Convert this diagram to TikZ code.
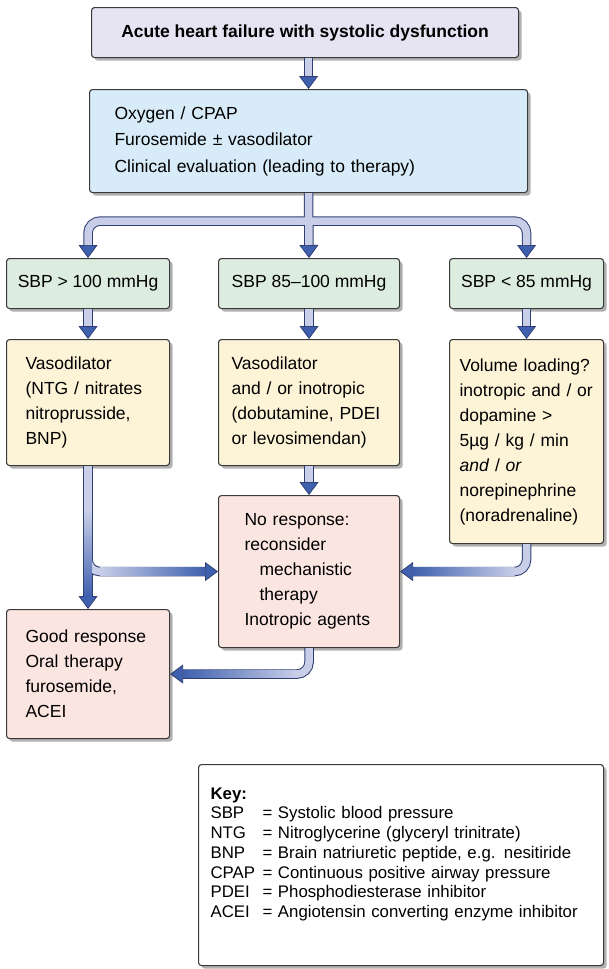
\documentclass[tikz,border=0pt]{standalone}
\usepackage{fontspec}
\setmainfont{Liberation Sans}
\usetikzlibrary{arrows.meta,shadows,calc}
\definecolor{topfill}{HTML}{E6E4F2}
\definecolor{bluefill}{HTML}{D7ECF8}
\definecolor{greenfill}{HTML}{DCECDF}
\definecolor{yellowfill}{HTML}{FDF3D7}
\definecolor{pinkfill}{HTML}{FBE5E0}
\definecolor{boxline}{HTML}{3A3A3A}
\definecolor{pipeline}{HTML}{2F3F73}
\definecolor{pipein}{HTML}{C8CEE8}
\definecolor{tipblue}{HTML}{3F60AE}
\begin{document}
\begin{tikzpicture}[x=1pt,y=-1pt,
  box/.style={draw=boxline, line width=1.1pt, rounded corners=3pt, anchor=north west,
    inner ysep=0pt, align=left, font=\fontsize{17.5}{25}\selectfont,
    drop shadow={shadow xshift=3pt, shadow yshift=-3pt, fill=black, opacity=0.3}},
  pipeo/.style={line width=9.5pt, draw=pipeline, rounded corners=12pt,
    -{Triangle[length=13pt,width=19pt,line width=0.8pt,fill=tipblue]}},
  pipei/.style={line width=7.5pt, draw=pipein, rounded corners=12pt, shorten >=13pt}]
\useasboundingbox (0,0) rectangle (608,969);

% boxes
\node[box, fill=topfill, minimum width=427pt, minimum height=50pt, align=center,
  font=\fontsize{17.5}{21}\selectfont\bfseries] (top) at (91,7)
  {Acute heart failure with systolic dysfunction};
\node[box, fill=bluefill, minimum width=438pt, minimum height=103pt, inner xsep=25pt,
  text width=388pt, font=\fontsize{17.5}{26.5}\selectfont] (blue) at (89,89)
  {Oxygen / CPAP\\Furosemide ± vasodilator\\Clinical evaluation (leading to therapy)};

\node[box, fill=greenfill, minimum width=163pt, minimum height=50pt, align=center] (g1) at (6,258) {SBP > 100 mmHg};
\node[box, fill=greenfill, minimum width=181pt, minimum height=50pt, align=center] (g2) at (218,258) {SBP 85--100 mmHg};
\node[box, fill=greenfill, minimum width=154pt, minimum height=50pt, align=center] (g3) at (449,258) {SBP < 85 mmHg};

\node[box, fill=yellowfill, minimum width=163pt, minimum height=126pt, inner xsep=19pt, text width=125pt] (y1) at (6,339)
  {Vasodilator\\(NTG / nitrates\\nitroprusside,\\BNP)};
\node[box, fill=yellowfill, minimum width=181pt, minimum height=126pt, inner xsep=13pt, text width=155pt] (y2) at (218,339)
  {Vasodilator\\and / or inotropic\\(dobutamine, PDEI\\or levosimendan)};
\node[box, fill=yellowfill, minimum width=154pt, minimum height=204pt, inner xsep=10pt, text width=134pt] (y3) at (449,339)
  {Volume loading?\\inotropic and / or\\dopamine >\\5µg / kg / min\\\textit{and} / \textit{or}\\norepinephrine\\(noradrenaline)};

\node[box, fill=pinkfill, minimum width=181pt, minimum height=152pt, inner xsep=26pt, text width=129pt] (pink) at (218,495)
  {No response:\\reconsider\\\hspace*{15pt}mechanistic\\\hspace*{15pt}therapy\\Inotropic agents};
\node[box, fill=pinkfill, minimum width=163pt, minimum height=129pt, inner xsep=19pt, text width=125pt] (good) at (6,609)
  {Good response\\Oral therapy\\furosemide,\\ACEI};

\node[box, fill=white, minimum width=405pt, minimum height=201pt, inner xsep=12pt, text width=381pt,
  font=\fontsize{16.8}{19.7}\selectfont] (key) at (198,764)
  {\textbf{Key:}\\
   \makebox[52pt][l]{SBP}= Systolic blood pressure\\
   \makebox[52pt][l]{NTG}= Nitroglycerine (glyceryl trinitrate)\\
   \makebox[52pt][l]{BNP}= Brain natriuretic peptide, e.g. nesitiride\\
   \makebox[52pt][l]{CPAP}= Continuous positive airway pressure\\
   \makebox[52pt][l]{PDEI}= Phosphodiesterase inhibitor\\
   \makebox[52pt][l]{ACEI}= Angiotensin converting enzyme inhibitor\rule[-25pt]{0pt}{25pt}};

% connectors
\coordinate (split) at ($(blue.south)+(0,28)$);
\draw[pipeo] (blue.north |- top.south) -- (blue.north);
\draw[pipei] (blue.north |- top.south) -- (blue.north);

\draw[pipeo] (split) -| (g1.north);
\draw[pipeo] (split) -| (g3.north);
\draw[pipeo] (blue.south) -- (g2.north);
\draw[pipei] (split) -| (g1.north);
\draw[pipei] (split) -| (g3.north);
\draw[pipei] (blue.south) -- (g2.north);

\draw[pipeo] (g1.south) -- (y1.north);
\draw[pipei] (g1.south) -- (y1.north);
\draw[pipeo] (g2.south) -- (y2.north);
\draw[pipei] (g2.south) -- (y2.north);
\draw[pipeo] (g3.south) -- (y3.north);
\draw[pipei] (g3.south) -- (y3.north);
\draw[pipeo] (y2.south) -- (pink.north);
\draw[pipei] (y2.south) -- (pink.north);

\draw[pipeo] (y1.south) -- (good.north);
\draw[pipeo] (y1.south) |- (pink.west);
\draw[pipei] (y1.south) -- (good.north);
\draw[pipei] (y1.south) |- (pink.west);
\shade[left color=pipein, right color=tipblue]
  ($(y1.south |- pink.west)+(12,-3.75)$) rectangle ($(pink.west)+(-13,3.75)$);
\shade[top color=pipein, bottom color=tipblue]
  ($(y1.south)+(-3.75,45)$) rectangle ($(good.north)+(3.75,-13)$);

\draw[pipeo] (y3.south) |- (pink.east);
\draw[pipei] (y3.south) |- (pink.east);
\shade[left color=tipblue, right color=pipein]
  ($(pink.east)+(13,-3.75)$) rectangle ($(y3.south |- pink.east)+(-12,3.75)$);

\draw[pipeo] (pink.south) |- (good.east);
\draw[pipei] (pink.south) |- (good.east);
\shade[left color=tipblue, right color=pipein]
  ($(good.east)+(13,-3.75)$) rectangle ($(pink.south |- good.east)+(-12,3.75)$);
\end{tikzpicture}
\end{document}
